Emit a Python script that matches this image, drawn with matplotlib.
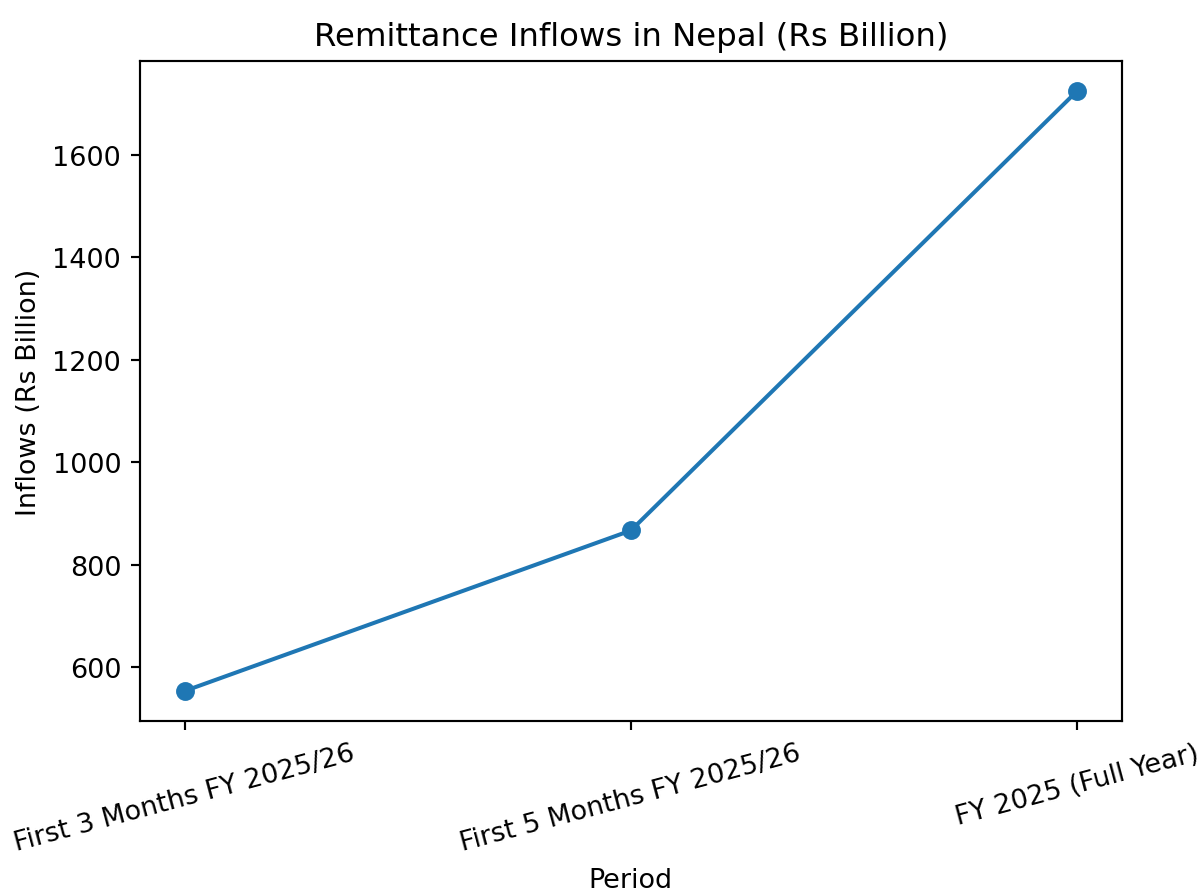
import matplotlib
matplotlib.use("Agg")
import matplotlib.pyplot as plt

periods = ["First 3 Months FY 2025/26", "First 5 Months FY 2025/26", "FY 2025 (Full Year)"]
inflows = [554, 867, 1724]

dpi = 194
plt.figure(figsize=(1201 / dpi, 895 / dpi), dpi=dpi)
plt.plot(periods, inflows, marker="o")
plt.title("Remittance Inflows in Nepal (Rs Billion)")
plt.xlabel("Period")
plt.ylabel("Inflows (Rs Billion)")
plt.xticks(rotation=15)
plt.subplots_adjust(left=0.1166, right=0.934, top=0.9307, bottom=0.1933)
plt.savefig("out.png", dpi=dpi)
